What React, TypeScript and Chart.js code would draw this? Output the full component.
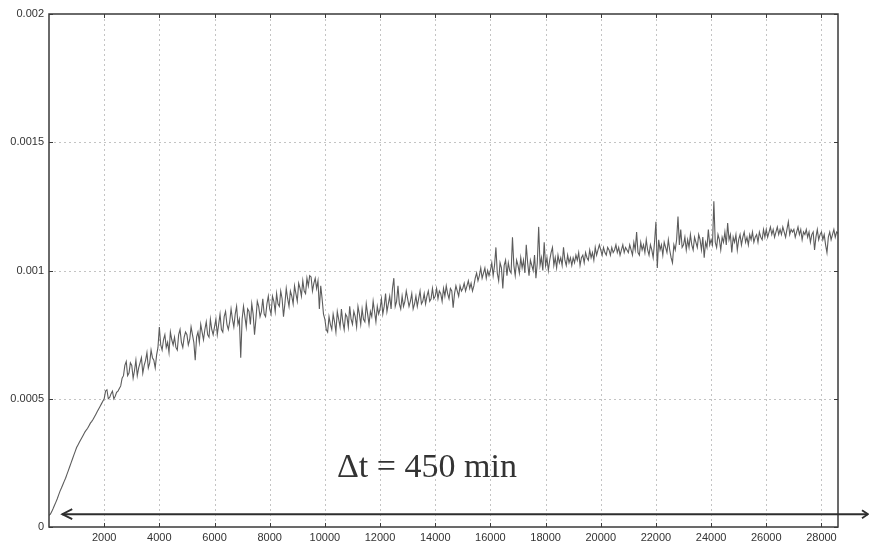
import React, { useEffect, useRef } from "react";
import { Chart, registerables } from "chart.js";

Chart.register(...registerables);

// sampling step of the recorded signal (x units)
const SAMPLE_STEP = 50;

// signal values in units of 1e-4, one per SAMPLE_STEP, starting at x = 0 (20 values per 1000)
const signalE4 = [
  // 0 - 950
  0.45, 0.5, 0.6, 0.72, 0.85, 0.97, 1.1, 1.25, 1.4, 1.52, 1.65, 1.78, 1.9, 2.05, 2.2, 2.35, 2.5, 2.65, 2.8, 2.95,
  // 1000
  3.1, 3.2, 3.3, 3.4, 3.5, 3.6, 3.7, 3.78, 3.85, 3.95, 4.05, 4.12, 4.2, 4.3, 4.4, 4.5, 4.6, 4.7, 4.8, 4.9,
  // 2000
  5.0, 5.3, 5.35, 5.0, 5.05, 5.2, 5.3, 5.0, 5.1, 5.25, 5.3, 5.4, 5.5, 5.8, 5.9, 6.3, 6.45, 5.9, 6.0, 6.4,
  // 3000
  6.3, 5.8, 6.1, 6.5, 5.9, 6.2, 6.4, 6.6, 6.0, 6.3, 6.5, 6.8, 6.2, 6.4, 6.9, 6.6, 6.5, 6.2, 6.7, 7.0,
  // 4000
  7.8, 7.1, 6.9, 7.3, 7.5, 7.0, 7.2, 6.8, 7.6, 7.3, 7.1, 7.4, 7.0, 6.9, 7.5, 7.7, 7.2, 7.0, 7.4, 7.6,
  // 5000
  7.5, 7.1, 7.3, 7.8, 7.5, 7.2, 6.5, 7.4, 7.6, 7.2, 7.9, 7.6, 7.3, 7.7, 8.0, 7.5, 7.4, 8.1, 7.7, 7.5,
  // 6000
  7.8, 8.1, 7.5, 7.9, 8.3, 7.7, 7.6, 8.2, 8.4, 7.9, 7.7, 8.0, 8.5, 8.1, 7.8, 8.3, 8.6, 7.9, 8.1, 6.6,
  // 7000
  8.1, 8.6, 8.2, 7.8, 8.5, 8.4, 7.9, 8.7, 8.3, 7.5, 8.1, 8.8, 8.6, 8.2, 8.4, 8.9, 8.3, 8.2, 8.7, 9.0,
  // 8000
  8.5, 8.3, 9.0, 8.8, 8.4, 9.1, 8.7, 8.6, 9.2, 8.9, 8.2, 8.7, 9.3, 8.9, 8.6, 9.2, 9.0, 8.7, 9.4, 9.1,
  // 9000
  8.8, 9.5, 9.3, 9.0, 9.6, 9.2, 9.1, 9.7, 9.4, 9.8, 9.75, 9.2, 9.5, 9.7, 9.3, 9.6, 8.5, 9.4, 8.9, 8.3,
  // 10000
  8.1, 7.7, 7.6, 8.2, 7.9, 7.7, 8.3, 8.0, 7.6, 8.4, 8.1, 7.8, 8.5, 8.0, 7.7, 8.3, 8.2, 7.8, 8.6, 8.1,
  // 11000
  7.9, 8.4, 8.2, 7.8, 8.6, 8.3, 7.9, 8.5, 8.1, 8.0, 8.7, 8.3, 7.9, 8.4, 8.2, 8.8, 8.4, 8.0, 8.6, 8.3,
  // 12000
  8.5, 8.9, 8.3, 8.6, 9.1, 8.4, 8.7, 9.0, 8.5, 9.3, 9.7, 8.6, 8.8, 9.4, 8.7, 8.5, 9.0, 8.6, 8.8, 9.2,
  // 13000
  8.9, 8.6, 8.8, 9.1, 8.5, 8.7, 9.0, 8.6, 8.9, 9.2, 8.7, 8.8, 9.1, 8.7, 9.0, 9.2, 8.8, 8.9, 9.3, 8.9,
  // 14000
  9.0, 9.3, 8.9, 9.2, 9.1, 8.8, 9.3, 9.0, 9.4, 9.1, 8.9, 9.3, 9.2, 8.55, 9.1, 9.4, 9.2, 9.0, 9.4, 9.2,
  // 15000
  9.3, 9.5, 9.2, 9.4, 9.6, 9.3, 9.5, 9.2, 9.4, 9.7, 9.9, 9.6, 9.8, 10.1, 9.7, 9.9, 10.1, 9.7, 10.0, 9.8,
  // 16000
  10.0, 10.3, 9.8, 10.2, 10.9, 9.9, 9.6, 10.3, 10.1, 9.3, 10.2, 10.4, 9.8, 10.3, 10.0, 9.9, 11.3, 10.2, 9.8, 10.4,
  // 17000
  10.2, 9.9, 10.5, 10.1, 10.4, 9.9, 11.0, 10.3, 9.8, 10.4, 10.2, 10.0, 10.6, 9.7, 10.3, 11.7, 10.2, 10.5, 10.0, 11.1,
  // 18000
  10.2, 10.5, 10.0, 10.4, 10.7, 10.9, 10.2, 10.5, 10.1, 10.6, 10.3, 10.5, 10.2, 10.9, 10.4, 10.2, 10.6, 10.3, 10.5, 10.2,
  // 19000
  10.5, 10.3, 10.6, 10.4, 10.7, 10.2, 10.5, 10.6, 10.3, 10.7, 10.5, 10.4, 10.8, 10.5, 10.7, 10.4, 10.9, 10.6, 10.8, 11.0,
  // 20000
  10.8, 10.6, 10.9, 10.7, 10.6, 10.9, 10.8, 10.6, 10.9, 10.7, 10.8, 11.0, 10.7, 10.9, 10.6, 10.8, 11.0, 10.7, 10.9, 10.8,
  // 21000
  10.7, 11.0, 10.8, 10.6, 11.1, 10.8, 11.5, 10.7, 10.6, 11.1, 10.8, 11.0, 10.7, 11.2, 10.8, 10.6, 11.0, 10.8, 10.5, 11.1,
  // 22000
  11.9, 10.1, 11.2, 10.8, 11.0, 10.6, 11.1, 10.9, 10.7, 11.2, 10.8, 10.5, 10.3, 11.0, 10.8, 11.2, 12.1, 11.0, 11.6, 10.9,
  // 23000
  11.0, 11.3, 10.8, 11.2, 10.9, 11.4, 11.0, 10.8, 11.3, 11.1, 10.9, 11.4, 11.2, 10.8, 11.3, 10.5, 11.1, 10.9, 11.6, 11.0,
  // 24000
  11.2, 11.0, 12.7, 11.1, 10.9, 11.4, 11.2, 10.8, 11.3, 11.1, 11.5, 11.0, 11.85, 11.2, 11.4, 10.7, 11.3, 11.1, 11.4, 10.8,
  // 25000
  11.2, 11.4, 11.0, 11.3, 11.5, 11.1, 11.3, 11.0, 11.4, 11.2, 11.5, 11.1, 11.3, 11.4, 11.1, 11.5, 11.3, 11.2, 11.6, 11.3,
  // 26000
  11.6, 11.3, 11.5, 11.7, 11.4, 11.6, 11.3, 11.5, 11.7, 11.4, 11.6, 11.4, 11.7, 11.5, 11.3, 11.6, 11.9, 11.4, 11.6, 11.5,
  // 27000
  11.6, 11.3, 11.5, 11.7, 11.4, 11.6, 11.2, 11.5, 11.4, 11.6, 11.3, 11.5, 11.1, 11.4, 11.5, 10.8, 11.3, 11.6, 11.2, 11.4,
  // 28000 - 28600
  11.5, 11.2, 11.4, 11.0, 10.7, 11.3, 11.5, 11.2, 11.4, 11.6, 11.3, 11.5, 11.45,
];

const X_MIN = 0;
const X_MAX = 28600;
const X_TICKS = [2000, 4000, 6000, 8000, 10000, 12000, 14000, 16000, 18000, 20000, 22000, 24000, 26000, 28000];
const X_TICK_LABELS = ["2000", "4000", "6000", "8000", "10000", "12000", "14000", "16000", "18000", "20000", "22000", "24000", "26000", "28000"];
const Y_MIN = 0;
const Y_MAX = 0.002;
const Y_TICKS = [0, 0.0005, 0.001, 0.0015, 0.002];
const Y_TICK_LABELS = ["0", "0.0005", "0.001", "0.0015", "0.002"];

// annotation (data coordinates)
const ANNOTATION_TEXT = "\u0394t = 450 min";
const ANNOTATION_X = 13700;
const ANNOTATION_Y = 0.00023;
const ARROW_START_X = 480;
const ARROW_Y = 0.00005;

const decorPlugin = {
  id: "decor",
  beforeDatasetsDraw(chart: any) {
    const { ctx, chartArea: a, scales } = chart;
    const x = scales.x;
    const y = scales.y;
    ctx.save();
    ctx.strokeStyle = "#c4c4c4";
    ctx.lineWidth = 1;
    ctx.setLineDash([2, 3]);
    X_TICKS.forEach((v) => {
      const px = Math.round(x.getPixelForValue(v)) + 0.5;
      ctx.beginPath();
      ctx.moveTo(px, a.top);
      ctx.lineTo(px, a.bottom);
      ctx.stroke();
    });
    Y_TICKS.forEach((v) => {
      if (v === Y_MIN || v === Y_MAX) return;
      const py = Math.round(y.getPixelForValue(v)) + 0.5;
      ctx.beginPath();
      ctx.moveTo(a.left, py);
      ctx.lineTo(a.right, py);
      ctx.stroke();
    });
    ctx.restore();
  },
  afterDatasetsDraw(chart: any) {
    const { ctx, chartArea: a, scales, width } = chart;
    const x = scales.x;
    const y = scales.y;
    ctx.save();
    // frame
    ctx.strokeStyle = "#3a3a3a";
    ctx.lineWidth = 1.5;
    ctx.setLineDash([]);
    ctx.strokeRect(a.left, a.top, a.right - a.left, a.bottom - a.top);
    // inward tick marks
    ctx.lineWidth = 1;
    const tl = 4;
    X_TICKS.forEach((v) => {
      const px = Math.round(x.getPixelForValue(v)) + 0.5;
      ctx.beginPath();
      ctx.moveTo(px, a.bottom);
      ctx.lineTo(px, a.bottom - tl);
      ctx.moveTo(px, a.top);
      ctx.lineTo(px, a.top + tl);
      ctx.stroke();
    });
    Y_TICKS.forEach((v) => {
      const py = Math.round(y.getPixelForValue(v)) + 0.5;
      ctx.beginPath();
      ctx.moveTo(a.left, py);
      ctx.lineTo(a.left + tl, py);
      ctx.moveTo(a.right, py);
      ctx.lineTo(a.right - tl, py);
      ctx.stroke();
    });
    // arrow
    const ay = y.getPixelForValue(ARROW_Y);
    const ax0 = x.getPixelForValue(ARROW_START_X);
    const ax1 = width - 1;
    ctx.strokeStyle = "#2e2e2e";
    ctx.lineWidth = 2;
    ctx.beginPath();
    ctx.moveTo(ax0, ay);
    ctx.lineTo(ax1, ay);
    ctx.stroke();
    ctx.lineWidth = 1.8;
    ctx.beginPath();
    ctx.moveTo(ax0 + 10, ay - 5);
    ctx.lineTo(ax0, ay);
    ctx.lineTo(ax0 + 10, ay + 5);
    ctx.moveTo(ax1 - 6, ay - 4);
    ctx.lineTo(ax1, ay);
    ctx.lineTo(ax1 - 6, ay + 4);
    ctx.stroke();
    // text
    ctx.fillStyle = "#333333";
    ctx.font = "34px 'Liberation Serif', 'Times New Roman', serif";
    ctx.textAlign = "center";
    ctx.textBaseline = "middle";
    ctx.fillText(ANNOTATION_TEXT, x.getPixelForValue(ANNOTATION_X), y.getPixelForValue(ANNOTATION_Y));
    ctx.restore();
  },
};

export default function App() {
  const canvasRef = useRef<HTMLCanvasElement | null>(null);

  useEffect(() => {
    if (!canvasRef.current) return;
    const points = signalE4.map((v, i) => ({ x: i * SAMPLE_STEP, y: v / 1e4 }));
    const tickFont = { family: "'Liberation Sans', Arial, sans-serif", size: 11 };
    const chart = new Chart(canvasRef.current, {
      type: "line",
      data: {
        datasets: [
          {
            data: points,
            borderColor: "#5c5c5c",
            borderWidth: 1.1,
            pointRadius: 0,
            tension: 0,
            fill: false,
          },
        ],
      },
      options: {
        animation: false,
        responsive: true,
        maintainAspectRatio: false,
        layout: { padding: { top: 14, right: 31, left: 0, bottom: 0 } },
        plugins: { legend: { display: false }, tooltip: { enabled: false } },
        scales: {
          x: {
            type: "linear",
            min: X_MIN,
            max: X_MAX,
            grid: { display: false, drawTicks: false },
            border: { display: false },
            afterBuildTicks: (s: any) => {
              s.ticks = X_TICKS.map((v) => ({ value: v }));
            },
            afterFit: (s: any) => {
              s.height = 19;
            },
            ticks: {
              autoSkip: false,
              maxRotation: 0,
              padding: 4,
              color: "#333333",
              font: tickFont,
              callback: (_v: any, i: number) => X_TICK_LABELS[i],
            },
          },
          y: {
            type: "linear",
            min: Y_MIN,
            max: Y_MAX,
            grid: { display: false, drawTicks: false },
            border: { display: false },
            afterBuildTicks: (s: any) => {
              s.ticks = Y_TICKS.map((v) => ({ value: v }));
            },
            afterFit: (s: any) => {
              s.width = 49;
            },
            ticks: {
              padding: 5,
              color: "#333333",
              font: tickFont,
              callback: (_v: any, i: number) => Y_TICK_LABELS[i],
            },
          },
        },
      },
      plugins: [decorPlugin],
    });
    return () => chart.destroy();
  }, []);

  return (
    <div style={{ position: "absolute", left: 0, top: 0, width: 869, height: 546, background: "#ffffff" }}>
      <canvas ref={canvasRef} />
    </div>
  );
}
